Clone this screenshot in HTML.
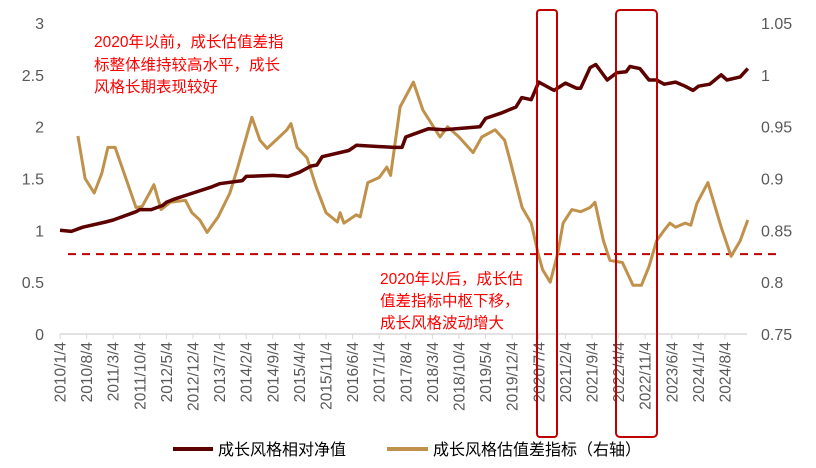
<!DOCTYPE html>
<html><head><meta charset="utf-8">
<style>
html,body{margin:0;padding:0;background:#fff;}
svg{display:block;font-family:"Liberation Sans","Noto Sans CJK SC",sans-serif;}
</style></head>
<body>
<svg id="chart" width="816" height="468" viewBox="0 0 816 468" xmlns="http://www.w3.org/2000/svg"></svg>
<script>
const navMonths=[0,3,6,12,14,20,21,24,27,28,30,35,40,42,48,49,56,60,63,66,67.6,69,76,78,88,90,91,97,101,110.5,112,116,120,121.5,124,126,130,133,136,137,139.5,141,144,146.5,149,150,152.6,155,157,159,162,164.5,166.6,168,171,174,175.5,179,181];
const navValues=[1.0,0.99,1.03,1.08,1.1,1.18,1.2,1.2,1.24,1.27,1.3,1.36,1.42,1.45,1.48,1.52,1.53,1.52,1.56,1.62,1.63,1.71,1.77,1.82,1.8,1.8,1.9,1.98,1.97,2.0,2.08,2.13,2.19,2.28,2.26,2.43,2.35,2.42,2.37,2.37,2.57,2.6,2.45,2.52,2.53,2.58,2.56,2.45,2.45,2.41,2.43,2.39,2.35,2.39,2.41,2.5,2.45,2.48,2.56];
const spreadMonths=[4.7,6.6,9,11,12.6,14.5,18.4,20,21.6,23.7,24.7,26.6,29,33,34.7,36.8,38.7,41.6,44.7,46.8,50.5,52.6,54.5,57.4,59.7,60.8,62.4,65,67.4,70,73,73.7,74.7,78,79,81,84,86,87,89.5,93,95.5,100,102,105,108.7,111,114.5,117,118.4,121.6,124,125.8,127,129,131,132.4,134.7,137,139.5,140.8,143,144.7,148,150.8,153,155,157,159,160.5,162,164.5,166,167.6,170.5,174,176.6,179,181];
const spreadValues=[0.941,0.90,0.886,0.905,0.93,0.93,0.889,0.872,0.873,0.887,0.894,0.87,0.877,0.879,0.867,0.86,0.848,0.863,0.886,0.911,0.959,0.937,0.929,0.939,0.947,0.953,0.93,0.92,0.892,0.867,0.858,0.867,0.857,0.865,0.863,0.896,0.901,0.911,0.903,0.969,0.993,0.966,0.94,0.95,0.94,0.925,0.94,0.947,0.937,0.918,0.872,0.857,0.828,0.812,0.80,0.828,0.857,0.87,0.868,0.872,0.877,0.84,0.821,0.819,0.797,0.797,0.815,0.84,0.85,0.857,0.853,0.857,0.855,0.876,0.896,0.853,0.825,0.84,0.86];
const leftTicks=[0,0.5,1,1.5,2,2.5,3];
const leftTickLabels=["0","0.5","1","1.5","2","2.5","3"];
const rightTicks=[0.75,0.8,0.85,0.9,0.95,1.0,1.05];
const rightTickLabels=["0.75","0.8","0.85","0.9","0.95","1","1.05"];
const xLabels=["2010/1/4","2010/8/4","2011/3/4","2011/10/4","2012/5/4","2012/12/4","2013/7/4","2014/2/4","2014/9/4","2015/4/4","2015/11/4","2016/6/4","2017/1/4","2017/8/4","2018/3/4","2018/10/4","2019/5/4","2019/12/4","2020/7/4","2021/2/4","2021/9/4","2022/4/4","2022/11/4","2023/6/4","2024/1/4","2024/8/4"];
const thresholdValue=0.827;

const svg=document.getElementById('chart');
const NS='http://www.w3.org/2000/svg';
const x0=60,pxPerMonth=3.8,yBase=334,yTop=23;
function xs(m){return x0+m*pxPerMonth;}
function yl(v){return yBase-(v-0)/3*(yBase-yTop);}
function yr(v){return yBase-(v-0.75)/0.3*(yBase-yTop);}
function mk(tag,attrs){const e=document.createElementNS(NS,tag);for(const k in attrs)e.setAttribute(k,attrs[k]);svg.appendChild(e);return e;}

const ax=mk('line',{x1:60,y1:334,x2:747,y2:334,stroke:'#d9d9d9','stroke-width':1.5});


xLabels.forEach((lab,i)=>{
  const x=xs(i*7);
  const t=mk('line',{x1:x,y1:334,x2:x,y2:339,stroke:'#d9d9d9','stroke-width':1});
  
  
  const tx=mk('text',{x:0,y:0,'font-size':15.5,fill:'#595959','text-anchor':'end',transform:`translate(${x+5.5},342) rotate(-90)`});
  tx.textContent=lab;
  
  
});
leftTicks.forEach((v,i)=>{
  const t=mk('text',{x:44,y:yl(v)+6,'font-size':16,fill:'#595959','text-anchor':'end'});
  t.textContent=leftTickLabels[i];
  
  
});
rightTicks.forEach((v,i)=>{
  const t=mk('text',{x:761,y:yr(v)+6,'font-size':16,fill:'#595959','text-anchor':'start'});
  t.textContent=rightTickLabels[i];
  
  
});
const th=mk('line',{x1:68,y1:yr(thresholdValue),x2:780,y2:yr(thresholdValue),stroke:'#c00000','stroke-width':2,'stroke-dasharray':'8,6'});


function pathOf(ms,vs,yf){return ms.map((m,i)=>(i?'L':'M')+xs(m).toFixed(1)+','+yf(vs[i]).toFixed(1)).join('');}
const s2=mk('path',{d:pathOf(spreadMonths,spreadValues,yr),fill:'none',stroke:'#c0914a','stroke-width':3,'stroke-linejoin':'round'});


const s1=mk('path',{d:pathOf(navMonths,navValues,yl),fill:'none',stroke:'#5c0000','stroke-width':3.5,'stroke-linejoin':'round'});


const b1=mk('rect',{x:537,y:10,width:20,height:427,rx:3,fill:'none',stroke:'#c00000','stroke-width':2});


const b2=mk('rect',{x:616,y:10,width:41,height:427,rx:4,fill:'none',stroke:'#c00000','stroke-width':2});


[["2020年以前，成长估值差指",47],["标整体维持较高水平，成长",70],["风格长期表现较好",92]].forEach(([s,y])=>{
  const t=mk('text',{x:94,y:y,'font-size':15.5,fill:'#ff0000'});t.textContent=s;
  
  
});
[["2020年以后，成长估",284],["值差指标中枢下移，",306],["成长风格波动增大",328]].forEach(([s,y])=>{
  const t=mk('text',{x:380,y:y,'font-size':15.5,fill:'#ff0000'});t.textContent=s;
  
  
});
const l1=mk('line',{x1:173,y1:449,x2:213,y2:449,stroke:'#5c0000','stroke-width':4});


const lt1=mk('text',{x:218,y:455,'font-size':16,fill:'#000'});lt1.textContent='成长风格相对净值';


const l2=mk('line',{x1:387,y1:449,x2:428,y2:449,stroke:'#c0914a','stroke-width':4});


const lt2=mk('text',{x:433,y:455,'font-size':16,fill:'#000'});lt2.textContent='成长风格估值差指标（右轴）';


</script>
</body></html>
